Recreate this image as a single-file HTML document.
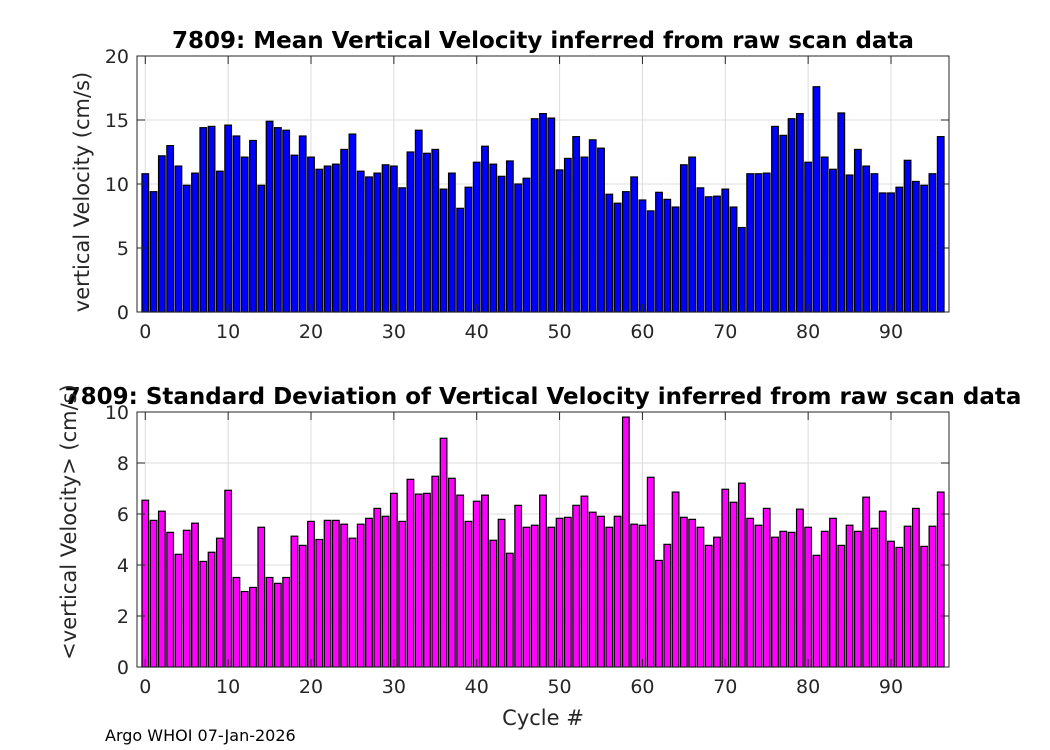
<!DOCTYPE html>
<html><head><meta charset="utf-8"><style>
body{margin:0;background:#fff;width:1050px;height:750px;overflow:hidden}
svg{display:block;font-family:"DejaVu Sans","Liberation Sans",sans-serif}
</style></head><body>
<svg id="c" width="1050" height="750"></svg>
<script>
const cycles = Array.from({length:97},(_,i)=>i);
const meanVel = [10.8,9.4,12.2,13.0,11.4,9.9,10.85,14.4,14.5,11.0,14.6,13.75,12.1,13.4,9.9,14.9,14.4,14.2,12.25,13.75,12.1,11.15,11.4,11.55,12.7,13.9,11.0,10.55,10.85,11.5,11.4,9.7,12.5,14.2,12.4,12.7,9.6,10.85,8.1,9.75,11.7,12.95,11.55,10.6,11.8,10.0,10.45,15.1,15.5,15.15,11.1,12.0,13.7,12.1,13.45,12.8,9.2,8.5,9.4,10.55,8.75,7.9,9.35,8.8,8.2,11.5,12.1,9.7,9.0,9.05,9.6,8.2,6.6,10.8,10.8,10.85,14.5,13.8,15.1,15.5,11.7,17.6,12.1,11.15,15.55,10.7,12.7,11.4,10.8,9.3,9.3,9.75,11.85,10.2,9.9,10.8,13.7];
const stdVel = [6.54,5.75,6.11,5.28,4.42,5.36,5.64,4.14,4.5,5.05,6.93,3.51,2.96,3.12,5.48,3.51,3.28,3.51,5.13,4.77,5.71,5.0,5.75,5.75,5.6,5.05,5.6,5.83,6.22,5.91,6.81,5.71,7.36,6.78,6.81,7.48,8.97,7.4,6.74,5.71,6.5,6.74,4.97,5.79,4.46,6.34,5.48,5.56,6.74,5.48,5.83,5.87,6.34,6.7,6.07,5.91,5.48,5.91,9.8,5.6,5.56,7.44,4.18,4.81,6.86,5.87,5.79,5.48,4.77,5.09,6.97,6.46,7.21,5.83,5.56,6.22,5.09,5.32,5.28,6.19,5.48,4.38,5.32,5.83,4.77,5.56,5.32,6.66,5.44,6.11,4.93,4.69,5.52,6.22,4.73,5.52,6.86];
const xTicks = [0,10,20,30,40,50,60,70,80,90];
const yTicksTop = [0,5,10,15,20];
const yTicksBot = [0,2,4,6,8,10];

const NS="http://www.w3.org/2000/svg", svg=document.getElementById('c');
function mk(t,a,txt){const e=document.createElementNS(NS,t);for(const k in a)e.setAttribute(k,a[k]);if(txt!==undefined)e.textContent=txt;svg.appendChild(e);return e;}
const L=137,R=949,X0=-1,X1=97;
const sx=v=>L+(v-X0)/(X1-X0)*(R-L);

function panel(top,bot,ymax,yt,vals,color,title,ylab,ylx,yly,name){
  const sy=v=>bot-v/ymax*(bot-top);
  let bg=mk('rect',{x:L,y:top,width:R-L,height:bot-top,fill:'#fff'});
  
  
  xTicks.forEach(t=>{mk('line',{x1:sx(t),x2:sx(t),y1:top,y2:bot,stroke:'#dcdcdc','stroke-width':1});});
  yt.forEach(t=>{mk('line',{x1:L,x2:R,y1:sy(t),y2:sy(t),stroke:'#dcdcdc','stroke-width':1});});
  vals.forEach((v,i)=>{
    const x=sx(cycles[i])-0.4*(R-L)/(X1-X0);
    let r=mk('rect',{x:x,y:sy(v),width:0.8*(R-L)/(X1-X0),height:sy(0)-sy(v),fill:color,stroke:'#000','stroke-width':1.2});
    
    
  });
  mk('rect',{x:L,y:top,width:R-L,height:bot-top,fill:'none',stroke:'#262626','stroke-width':1});
  xTicks.forEach(t=>{
    mk('line',{x1:sx(t),x2:sx(t),y1:bot,y2:bot-8,stroke:'#262626'});
    mk('line',{x1:sx(t),x2:sx(t),y1:top,y2:top+8,stroke:'#262626'});
    let tx=mk('text',{x:sx(t),y:bot+26,'font-size':19,'text-anchor':'middle',fill:'#262626'},t);
    
    
  });
  yt.forEach(t=>{
    mk('line',{x1:L,x2:L+8,y1:sy(t),y2:sy(t),stroke:'#262626'});
    mk('line',{x1:R,x2:R-8,y1:sy(t),y2:sy(t),stroke:'#262626'});
    let tx=mk('text',{x:L-8,y:sy(t)+7,'font-size':19,'text-anchor':'end',fill:'#262626'},t);
    
    
  });
  let ti=mk('text',{x:543,y:top-8,'font-size':23,'font-weight':'bold','text-anchor':'middle',fill:'#000'},title);
  
  
  let yl=mk('text',{x:ylx,y:yly,'font-size':21,'text-anchor':'middle',fill:'#262626',transform:`rotate(-90 ${ylx} ${yly})`},ylab);
  
  
}
panel(56,312,20,yTicksTop,meanVel,'#0000ff','7809: Mean Vertical Velocity inferred from raw scan data','vertical Velocity (cm/s)',89,192,'mean');
panel(412,667,10,yTicksBot,stdVel,'#ff00ff','7809: Standard Deviation of Vertical Velocity inferred from raw scan data','<vertical Velocity> (cm/s)',76,522,'std');
let xl=mk('text',{x:543,y:725,'font-size':21,'text-anchor':'middle',fill:'#262626'},'Cycle #');


let ft=mk('text',{x:105,y:741,'font-size':16,fill:'#000'},'Argo WHOI 07-Jan-2026');


</script>
</body></html>
